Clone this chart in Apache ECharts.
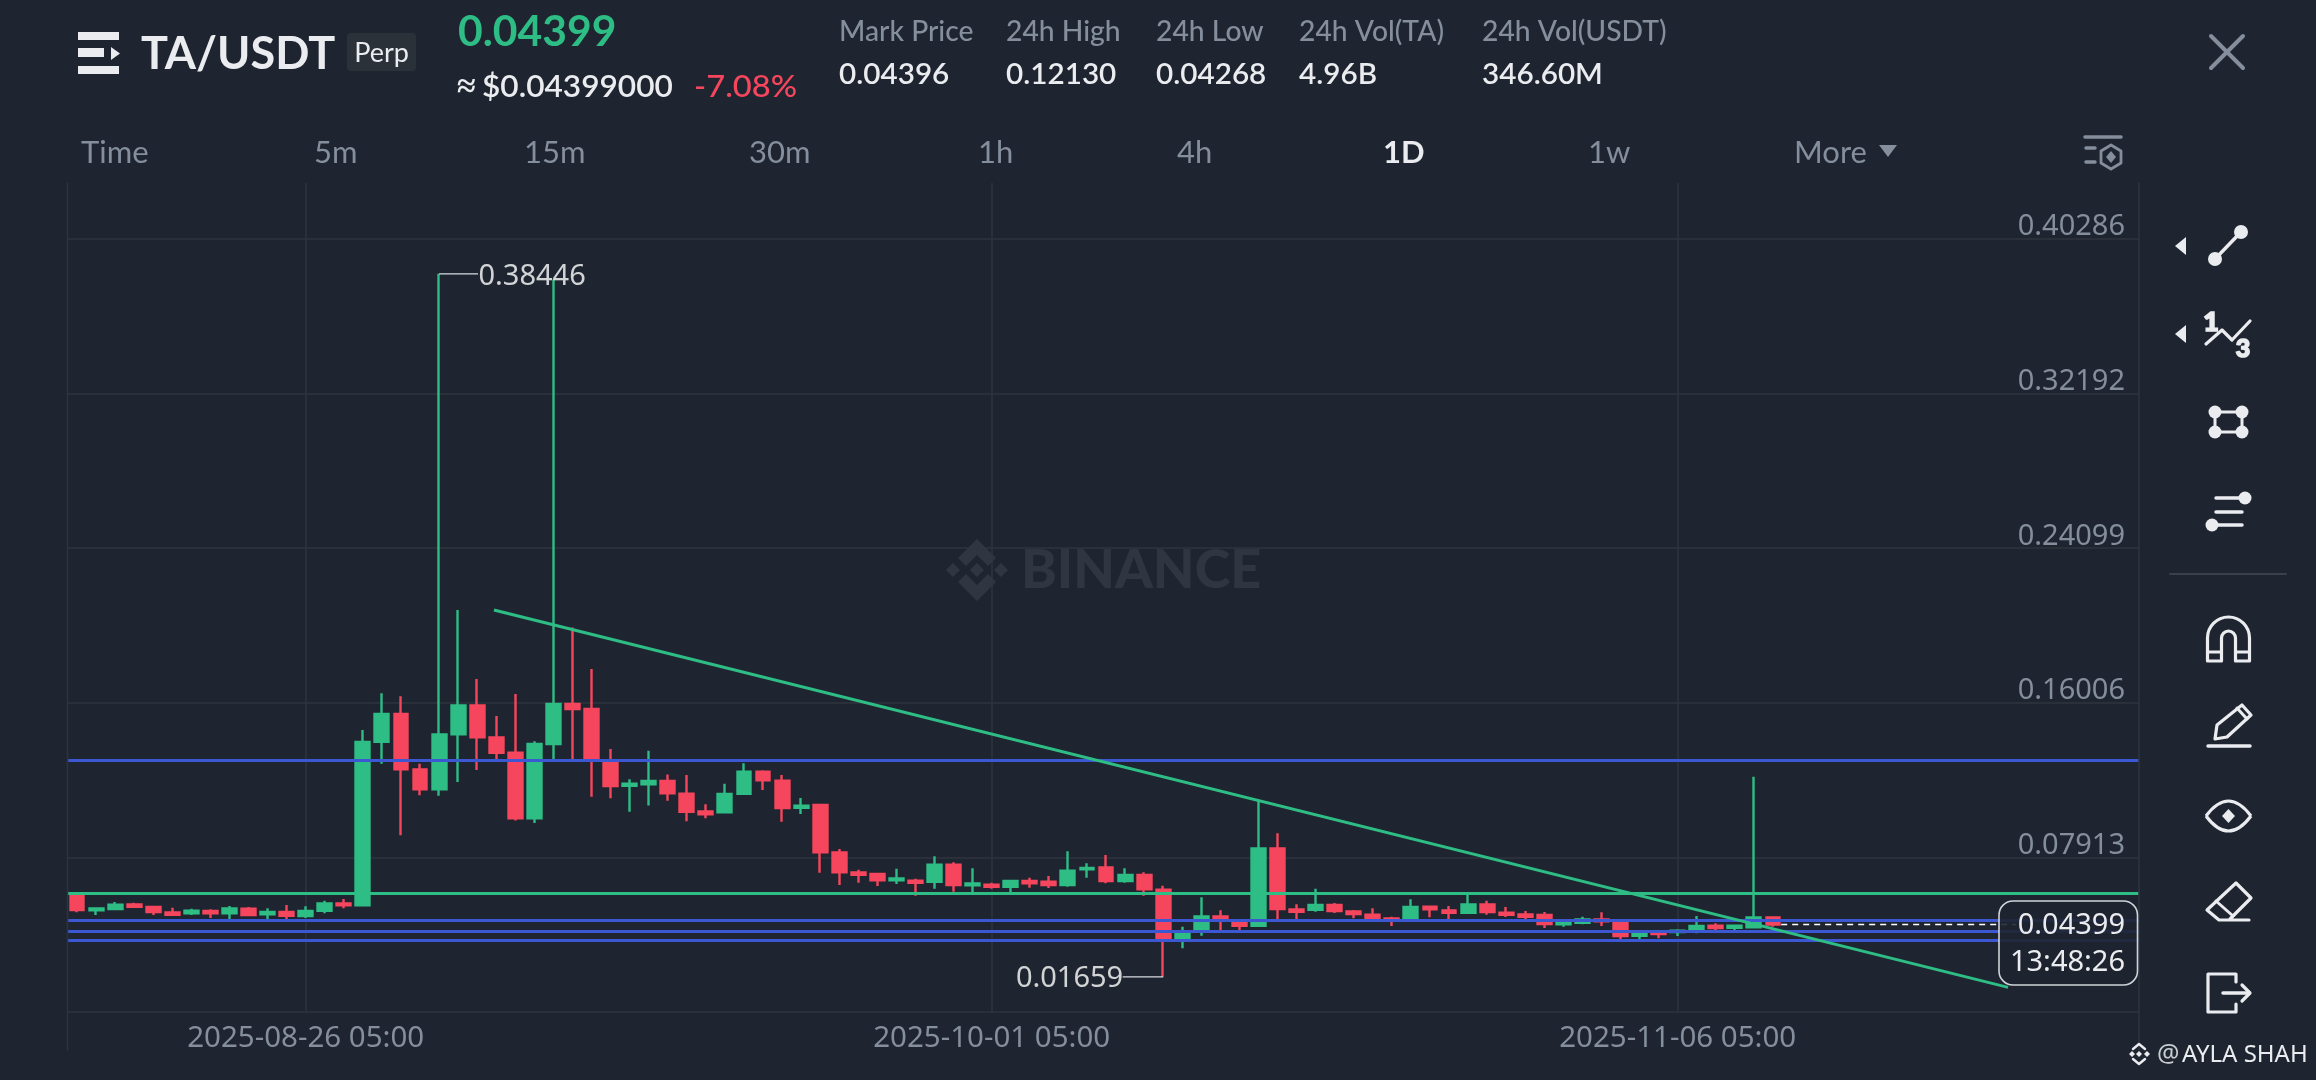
<!DOCTYPE html>
<html><head><meta charset="utf-8">
<style>html,body{margin:0;padding:0;background:#1e2530}#c{width:2316px;height:1080px}</style>
<script src="https://cdn.jsdelivr.net/npm/echarts@6/dist/echarts.min.js"></script>
</head><body><div id="c"></div>
<script>
const days = ['08-14','08-15','08-16','08-17','08-18','08-19','08-20','08-21','08-22','08-23','08-24','08-25','08-26','08-27','08-28','08-29','08-30','08-31',
'09-01','09-02','09-03','09-04','09-05','09-06','09-07','09-08','09-09','09-10','09-11','09-12','09-13','09-14','09-15','09-16','09-17','09-18','09-19','09-20','09-21','09-22','09-23','09-24','09-25','09-26','09-27','09-28','09-29','09-30',
'10-01','10-02','10-03','10-04','10-05','10-06','10-07','10-08','10-09','10-10','10-11','10-12','10-13','10-14','10-15','10-16','10-17','10-18','10-19','10-20','10-21','10-22','10-23','10-24','10-25','10-26','10-27','10-28','10-29','10-30','10-31',
'11-01','11-02','11-03','11-04','11-05','11-06','11-07','11-08','11-09','11-10','11-11'];
const opens = [0.05941,0.05138,0.05208,0.05452,0.05313,0.05034,0.04981,0.05103,0.04981,0.05226,0.04929,0.05051,0.04842,0.05121,0.05505,0.05400,0.13964,0.15411,0.12516,0.11470,0.14347,0.15865,0.14190,0.13388,0.09952,0.13842,0.15934,0.15673,0.12882,0.11661,0.11731,0.11906,0.11243,0.10318,0.10266,0.11243,0.12394,0.11923,0.10510,0.10650,0.08173,0.07127,0.07040,0.06708,0.06691,0.06638,0.07528,0.06446,0.06481,0.06377,0.06673,
0.06638,0.06464,0.07284,0.07388,0.06673,0.06987,0.06220,0.03586,0.04075,0.04825,0.04546,0.04336,0.08383,0.05191,0.05173,0.05418,0.05086,0.04912,0.04720,0.04668,0.05330,0.05139,0.05016,0.05452,0.05016,0.04929,0.04894,0.04406,0.04493,0.04668,0.04493,0.03813,0.03970,0.04005,0.04075,0.04336,0.04232,0.04249,0.04772];
const closes = [0.05156,0.05243,0.05435,0.05330,0.05051,0.04911,0.05121,0.04981,0.05243,0.04894,0.05051,0.04859,0.05103,0.05505,0.05400,0.13946,0.15411,0.12516,0.11470,0.14347,0.15865,0.14190,0.13388,0.09952,0.13842,0.15934,0.15673,0.13004,0.11644,0.11766,0.11906,0.11260,0.10301,0.10161,0.11225,0.12394,0.11940,0.10493,0.10615,0.08173,0.07127,0.07005,0.06708,0.06813,0.06586,0.07528,0.06464,0.06551,0.06377,0.06673,0.06551,
0.06464,0.07214,0.07354,0.06673,0.06987,0.06237,0.03586,0.03935,0.04825,0.04668,0.04336,0.08383,0.05208,0.05069,0.05418,0.05104,0.04947,0.04668,0.04650,0.05313,0.05191,0.05016,0.05452,0.05051,0.04912,0.04807,0.04424,0.04511,0.04668,0.04563,0.03796,0.03987,0.03900,0.04075,0.04319,0.04214,0.04336,0.04772,0.04399];
const lows = [0.05034,0.04894,0.05156,0.05278,0.04894,0.04894,0.04894,0.04737,0.04632,0.04842,0.04632,0.04632,0.04737,0.04981,0.05243,0.05348,0.12812,0.09063,0.11156,0.11138,0.11853,0.12481,0.13004,0.09847,0.09708,0.13004,0.13039,0.11086,0.10999,0.10301,0.10632,0.10877,0.09795,0.09952,0.10214,0.11208,0.11435,0.09778,0.10179,0.07109,0.06464,0.06586,0.06412,0.06516,0.05906,0.06272,0.06115,0.06028,0.06272,0.06028,0.06324,
0.06307,0.06377,0.06848,0.06551,0.06586,0.05906,0.01659,0.03150,0.03813,0.04075,0.04057,0.04319,0.04668,0.04668,0.05069,0.04999,0.04720,0.04633,0.04319,0.04580,0.04772,0.04668,0.04947,0.04912,0.04790,0.04633,0.04214,0.04284,0.04406,0.04319,0.03621,0.03551,0.03673,0.03796,0.03935,0.04075,0.04075,0.04197,0.04284];
const highs = [0.05993,0.05243,0.05574,0.05540,0.05348,0.05278,0.05226,0.05191,0.05365,0.05313,0.05243,0.05417,0.05348,0.05644,0.05731,0.14574,0.16493,0.16336,0.12812,0.38446,0.20853,0.17243,0.15307,0.16458,0.13981,0.38150,0.19946,0.17766,0.13580,0.11993,0.13493,0.12254,0.12219,0.10685,0.11766,0.12830,0.12464,0.12219,0.11016,0.10685,0.08348,0.07266,0.07074,0.07319,0.06795,0.07964,0.07650,0.07336,0.06586,0.06673,0.06848,
0.06935,0.08226,0.07598,0.08034,0.07336,0.07127,0.06429,0.04284,0.05819,0.05139,0.04633,0.10877,0.09167,0.05452,0.06272,0.05522,0.05156,0.05243,0.04807,0.05714,0.05365,0.05365,0.06028,0.05644,0.05313,0.05104,0.05051,0.04546,0.04807,0.05034,0.04528,0.04022,0.04057,0.04144,0.04842,0.04458,0.04354,0.12130,0.04807];
const blueLevels = [0.12969,0.04598,0.04022,0.03551];
const greenLevels = [0.06028];
const trendLine = [['2025-09-05 02:07',0.20853],['2025-11-23 13:10',0.01110]];
const lastPrice = 0.04399;
const lastPriceSpan = ['2025-11-11 15:20','2025-11-23 23:15'];
const highMark = {from:'2025-09-02 05:00',to:'2025-09-04 06:00',value:0.38446,label:'0.38446'};
const lowMark = {from:'2025-10-10 05:00',to:'2025-10-08 02:00',value:0.01659,label:'0.01659'};
const yTicks = [-0.0018,0.07913,0.16006,0.24099,0.32192,0.40286];
const yLabels = [0.07913,0.16006,0.24099,0.32192,0.40286];
const xTicks = ['2025-08-26 05:00','2025-10-01 05:00','2025-11-06 05:00'];
const xRange = ['2025-08-13 17:00','2025-11-30 10:00'];
const stats = [['Mark Price','0.04396',839],['24h High','0.12130',1006],['24h Low','0.04268',1156],['24h Vol(TA)','4.96B',1299],['24h Vol(USDT)','346.60M',1482]];
const tabs = [['Time',81],['5m',314],['15m',524],['30m',749],['1h',978],['4h',1177],['1D',1383],['1w',1588],['More',1794]];

const BG='#1e2530',GREEN='#2ebd85',RED='#f6465d',BLUE='#3b57d2',GRAY='#848e9c',WHITE='#eaecef',GRID='#2e343e',MARK='#303641';
const ms = s => { const [d,t]=s.split(' '); return new Date(d+'T'+t+':00').getTime(); };
const FONT='Lato', NUM='"Noto Sans"';
const T=(x,y,text,size,fill,o={})=>({type:'text',x,y,z:o.z||20,scaleX:o.sx||1,style:{text,fontSize:size,fontFamily:o.font||FONT,fontWeight:o.w||500,fill,textAlign:o.a||'left',textVerticalAlign:'middle',stroke:o.st?fill:null,lineWidth:o.st||0}});
const L=(x1,y1,x2,y2,c=WHITE,w=3.5)=>({type:'line',z:20,shape:{x1,y1,x2,y2},style:{stroke:c,lineWidth:w,lineCap:'round'}});
const C=(cx,cy,r,c=WHITE)=>({type:'circle',z:20,shape:{cx,cy,r},style:{fill:c}});
const PG=(points,c=WHITE)=>({type:'polygon',z:20,shape:{points},style:{fill:c}});
const PL=(points,c=WHITE,w=3.2)=>({type:'polyline',z:20,shape:{points},style:{stroke:c,fill:null,lineWidth:w,lineJoin:'round',lineCap:'round'}});
const R=(x,y,width,height,r,fill,stroke,lw)=>({type:'rect',z:20,shape:{x,y,width,height,r},style:{fill:fill||null,stroke:stroke||null,lineWidth:lw||1}});

const gfx=[];
gfx.push(R(78,32,41,8,0,WHITE),R(78,48,26,9,0,WHITE),PG([[111,47],[120,53.5],[111,60]]),R(78,66,41,8,0,WHITE));
gfx.push(T(141,54,'TA/USDT',45,WHITE,{w:700}));
gfx.push(R(347,33,69,38,4,'#2b3139'),T(381.5,53,'Perp',27,WHITE,{a:'center',w:400}));
gfx.push(T(458,32,'0.04399',42,GREEN,{w:700,sx:1.015}));
gfx.push(T(457,87,'≈',34,WHITE,{font:NUM,w:700}),T(482,87,'$0.04399000',31,WHITE,{w:600,sx:1.02}),T(694,87,'-7.08%',30,RED,{w:500,sx:1.09}));
stats.forEach(s=>{gfx.push(T(s[2],32,s[0],28,GRAY,{w:500,sx:1.01}),T(s[2],75,s[1],28,WHITE,{w:600,sx:1.06}));});
tabs.forEach(t=>{gfx.push(T(t[1],153,t[0],31,t[0]==='1D'?WHITE:GRAY,{w:t[0]==='1D'?700:400}));});
gfx.push(PG([[1879,145],[1897,145],[1888,157]],GRAY));
gfx.push(L(2211,36,2243,68,GRAY,4),L(2243,36,2211,68,GRAY,4));
gfx.push(L(2085,137,2121,137,GRAY,3.5),L(2086,148,2095,148,GRAY,3.5),L(2086,162,2095,162,GRAY,3.5));
gfx.push(PL([[2101,151],[2111,145],[2121,151],[2121,163],[2111,169],[2101,163],[2101,151]],GRAY,2.8),PG([[2111,151],[2116,157],[2111,163],[2106,157]],GRAY));
gfx.push(T(1021,571,'BINANCE',54,MARK,{w:900,z:1}));
[[953,570],[977,570],[1001,570]].forEach(p=>gfx.push(Object.assign(PG([[p[0]-7,p[1]],[p[0],p[1]-7],[p[0]+7,p[1]],[p[0],p[1]+7]],MARK),{z:1})));
gfx.push(Object.assign(PG([[977,539],[996,558],[988,566],[977,555],[966,566],[958,558]],MARK),{z:1}),Object.assign(PG([[977,601],[996,582],[988,574],[977,585],[966,574],[958,582]],MARK),{z:1}));
gfx.push(L(67.5,183,67.5,1050,GRID,1.5),L(2139,183,2139,1050,GRID,1.5));
gfx.push(R(1999,901,138.5,84,14,'rgba(30,37,48,0.9)','#d0d3d8',1.6));
gfx.push(T(2125,926,'0.04399',29,WHITE,{a:'right',font:NUM,w:400}),T(2125,963,'13:48:26',29,WHITE,{a:'right',font:NUM,w:400}));
gfx.push(PG([[2175,246],[2186,237],[2186,255]]),C(2215,259,7),C(2241,232,7),L(2215,259,2241,232));
gfx.push(PG([[2175,334],[2186,325],[2186,343]]),T(2211,322,'1',27,WHITE,{a:'center',w:900,st:1.6}),PL([[2206,344],[2222,330],[2232,340],[2250,321]]),T(2243,349,'3',25,WHITE,{a:'center',w:900,st:1.6}));
gfx.push(R(2215,412,27,20,0,null,WHITE,3),C(2215,412,6.5),C(2242,412,6.5),C(2215,432,6.5),C(2242,432,6.5));
gfx.push(L(2216,498,2245,498),C(2245,498,6.5),L(2216,512,2242,512),L(2212,525,2242,525),C(2212,525,6.5));
gfx.push(L(2170,574,2286,574,'#3a404a',2));
gfx.push({type:'arc',z:20,shape:{cx:2228.5,cy:638,r:21,startAngle:Math.PI,endAngle:0,clockwise:true},style:{stroke:WHITE,fill:null,lineWidth:3.2}});
gfx.push({type:'arc',z:20,shape:{cx:2228.5,cy:638,r:7,startAngle:Math.PI,endAngle:0,clockwise:true},style:{stroke:WHITE,fill:null,lineWidth:3.2}});
gfx.push(PL([[2207.5,638],[2207.5,661],[2221.5,661],[2221.5,638]]),PL([[2235.5,638],[2235.5,661],[2249.5,661],[2249.5,638]]),L(2208,652,2221,652,WHITE,3),L(2236,652,2249,652,WHITE,3));
gfx.push(L(2208,746,2250,746),PL([[2215,739],[2217,725],[2242,705],[2251,715],[2227,737],[2215,739]]),L(2237,708,2247,719,WHITE,3));
gfx.push({type:'bezierCurve',z:20,shape:{x1:2206,y1:816,x2:2251,y2:816,cpx1:2228.5,cpy1:786},style:{stroke:WHITE,fill:null,lineWidth:3.2}},{type:'bezierCurve',z:20,shape:{x1:2206,y1:816,x2:2251,y2:816,cpx1:2228.5,cpy1:846},style:{stroke:WHITE,fill:null,lineWidth:3.2}},PG([[2228.5,809],[2235,816],[2228.5,823],[2222,816]]));
gfx.push(PL([[2249,920],[2219,920],[2207,910],[2236,883],[2251,898],[2230,919]]),L(2216,901,2233,916,WHITE,3));
gfx.push(PL([[2236,982],[2236,974],[2208,974],[2208,1012],[2236,1012],[2236,1004]]),L(2223,993,2249,993),PL([[2242,985],[2250,993],[2242,1001]]));
[[2132,1054],[2139,1054],[2147,1054]].forEach(p=>gfx.push(PG([[p[0]-3,p[1]],[p[0],p[1]-3],[p[0]+3,p[1]],[p[0],p[1]+3]])));
gfx.push(PL([[2133,1049],[2139,1044],[2145,1049]],WHITE,2.4),PL([[2133,1059],[2139,1064],[2145,1059]],WHITE,2.4));
gfx.push(T(2157,1055,'@',25,'#c9ccd1',{font:NUM,w:400}),T(2182,1055,'AYLA SHAH',24,WHITE,{font:NUM,w:400}));

const labelStyle={color:'#fff',fontSize:29,fontFamily:NUM};
const hline=(v,c)=>({yAxis:v,lineStyle:{color:c,width:3.2,type:'solid'}});
const chart=echarts.init(document.getElementById('c'),null,{renderer:'canvas'});
chart.setOption({
  backgroundColor:BG,animation:false,
  grid:{left:67.5,right:2316-2139,top:183,bottom:1080-1012,containLabel:false},
  xAxis:{type:'value',min:ms(xRange[0]),max:ms(xRange[1]),
    axisLine:{show:false},
    axisTick:{show:false,customValues:xTicks.map(ms)},
    splitLine:{show:true,lineStyle:{color:GRID,width:1.5}},
    axisLabel:{show:true,customValues:xTicks.map(ms),margin:12,color:GRAY,fontSize:29.5,fontFamily:NUM,
      formatter:v=>{const d=new Date(v),p=n=>String(n).padStart(2,'0');return d.getFullYear()+'-'+p(d.getMonth()+1)+'-'+p(d.getDate())+' '+p(d.getHours())+':'+p(d.getMinutes());}}},
  yAxis:{type:'value',position:'right',min:-0.0018,max:0.43199,scale:true,
    axisLine:{show:false},
    axisTick:{show:false,customValues:yTicks},
    splitLine:{show:true,lineStyle:{color:GRID,width:1.5}},
    axisLabel:{show:true,inside:true,customValues:yLabels,margin:14,color:GRAY,fontSize:29,lineHeight:23,fontFamily:NUM,verticalAlign:'bottom',formatter:v=>v.toFixed(5)}},
  graphic:{elements:gfx},
  series:[
    {type:'candlestick',name:'TA/USDT',barWidth:14.4,z:3,
      data:days.map((d,i)=>[ms('2025-'+d+' 05:00'),opens[i],closes[i],lows[i],highs[i]]),
      encode:{x:0,y:[1,2,3,4]},
      itemStyle:{color:GREEN,color0:RED,borderColor:GREEN,borderColor0:RED,borderWidth:2.4},
      markLine:{silent:true,symbol:'none',z:5,precision:5,label:{show:false},animation:false,
        data:blueLevels.map(v=>hline(v,BLUE)).concat(greenLevels.map(v=>hline(v,GREEN)))}},
    {type:'line',name:'Trend',data:trendLine.map(p=>[ms(p[0]),p[1]]),symbol:'none',z:6,lineStyle:{color:GREEN,width:3},silent:true},
    {type:'line',name:'Last',data:lastPriceSpan.map(t=>[ms(t),lastPrice]),symbol:'none',z:6,lineStyle:{color:'#fff',width:1.5,type:[6,5]},silent:true},
    {type:'line',name:'HighLeader',data:[[ms(highMark.from),highMark.value],[ms(highMark.to),highMark.value]],symbol:'none',z:6,lineStyle:{color:'#d8dbe0',width:1.4},silent:true},
    {type:'line',name:'LowLeader',data:[[ms(lowMark.to),lowMark.value],[ms(lowMark.from),lowMark.value]],symbol:'none',z:6,lineStyle:{color:'#d8dbe0',width:1.4},silent:true},
    {type:'scatter',name:'Callouts',symbolSize:1,z:7,itemStyle:{color:'transparent'},silent:true,
      data:[{value:[ms(highMark.to),highMark.value],label:{show:true,position:'right',distance:0,offset:[0,2.5],formatter:highMark.label,...labelStyle}},
            {value:[ms(lowMark.to),lowMark.value],label:{show:true,position:'left',distance:-1,offset:[0,1.5],formatter:lowMark.label,...labelStyle}}]}
  ]
});
</script></body></html>
